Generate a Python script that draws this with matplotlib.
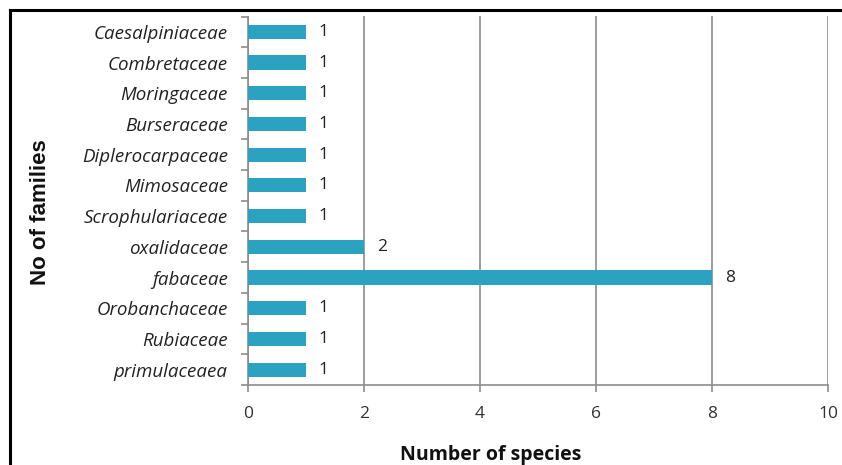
import matplotlib
matplotlib.use("Agg")
import matplotlib.pyplot as plt
from matplotlib.lines import Line2D

families = ["primulaceaea", "Rubiaceae", "Orobanchaceae", "fabaceae", "oxalidaceae",
            "Scrophulariaceae", "Mimosaceae", "Diplerocarpaceae", "Burseraceae",
            "Moringaceae", "Combretaceae", "Caesalpiniaceae"]
species = [1, 1, 1, 8, 2, 1, 1, 1, 1, 1, 1, 1]
xticks = [0, 2, 4, 6, 8, 10]

W, H = 842, 465
fig = plt.figure(figsize=(W / 100, H / 100), dpi=100)
ax = fig.add_axes([248 / W, 1 - 385 / H, (828 - 248) / W, (385 - 16.5) / H])

bar_color = "#2ba3c0"
grid_color = "#8c8c8c"
font = ["Open Sans", "DejaVu Sans"]

y = list(range(len(families)))
ax.barh(y, species, height=0.46, color=bar_color, zorder=3)
for yi, v in zip(y, species):
    ax.text(v + 0.22, yi, str(v), va="center", ha="left", fontsize=12.5,
            family=font, color="#222222")

ax.set_xlim(0, 10)
ax.set_ylim(-0.5, len(families) - 0.5)
ax.set_xticks(xticks)
ax.set_xticklabels([str(t) for t in xticks], family=font, fontsize=12.5, color="#333333")
ax.set_yticks(y)
ax.set_yticklabels(families, family=font, fontsize=13.5, style="italic", color="#222222")
ax.tick_params(axis="y", length=0, pad=14.5)
ax.tick_params(axis="x", length=5, color=grid_color, width=1.2, pad=10)

# category boundary tick marks on the y axis
ax.set_yticks([i - 0.5 for i in range(len(families) + 1)], minor=True)
ax.tick_params(axis="y", which="minor", length=5, color=grid_color, width=1.2)

ax.grid(axis="x", color=grid_color, linewidth=1.2, zorder=0)
for s in ["top", "right"]:
    ax.spines[s].set_visible(False)
for s in ["left", "bottom"]:
    ax.spines[s].set_color(grid_color)
    ax.spines[s].set_linewidth(1.2)

fig.text(491 / W, 1 - 455 / H, "Number of species", ha="center", va="center",
         family=font, fontsize=14, fontweight="bold", color="#111111")
fig.text(41 / W, 1 - 212 / H, "No of families", rotation=90, ha="center", va="center",
         family=["Liberation Sans", "DejaVu Sans"], fontsize=16, fontweight="bold",
         color="#111111")

# outer frame lines
fig.add_artist(Line2D([10 / W, 1], [1 - 10 / H, 1 - 10 / H], color="black", linewidth=2.2))
fig.add_artist(Line2D([10 / W, 10 / W], [0, 1 - 10 / H], color="black", linewidth=2.2))

fig.savefig("out.png", dpi=100)
